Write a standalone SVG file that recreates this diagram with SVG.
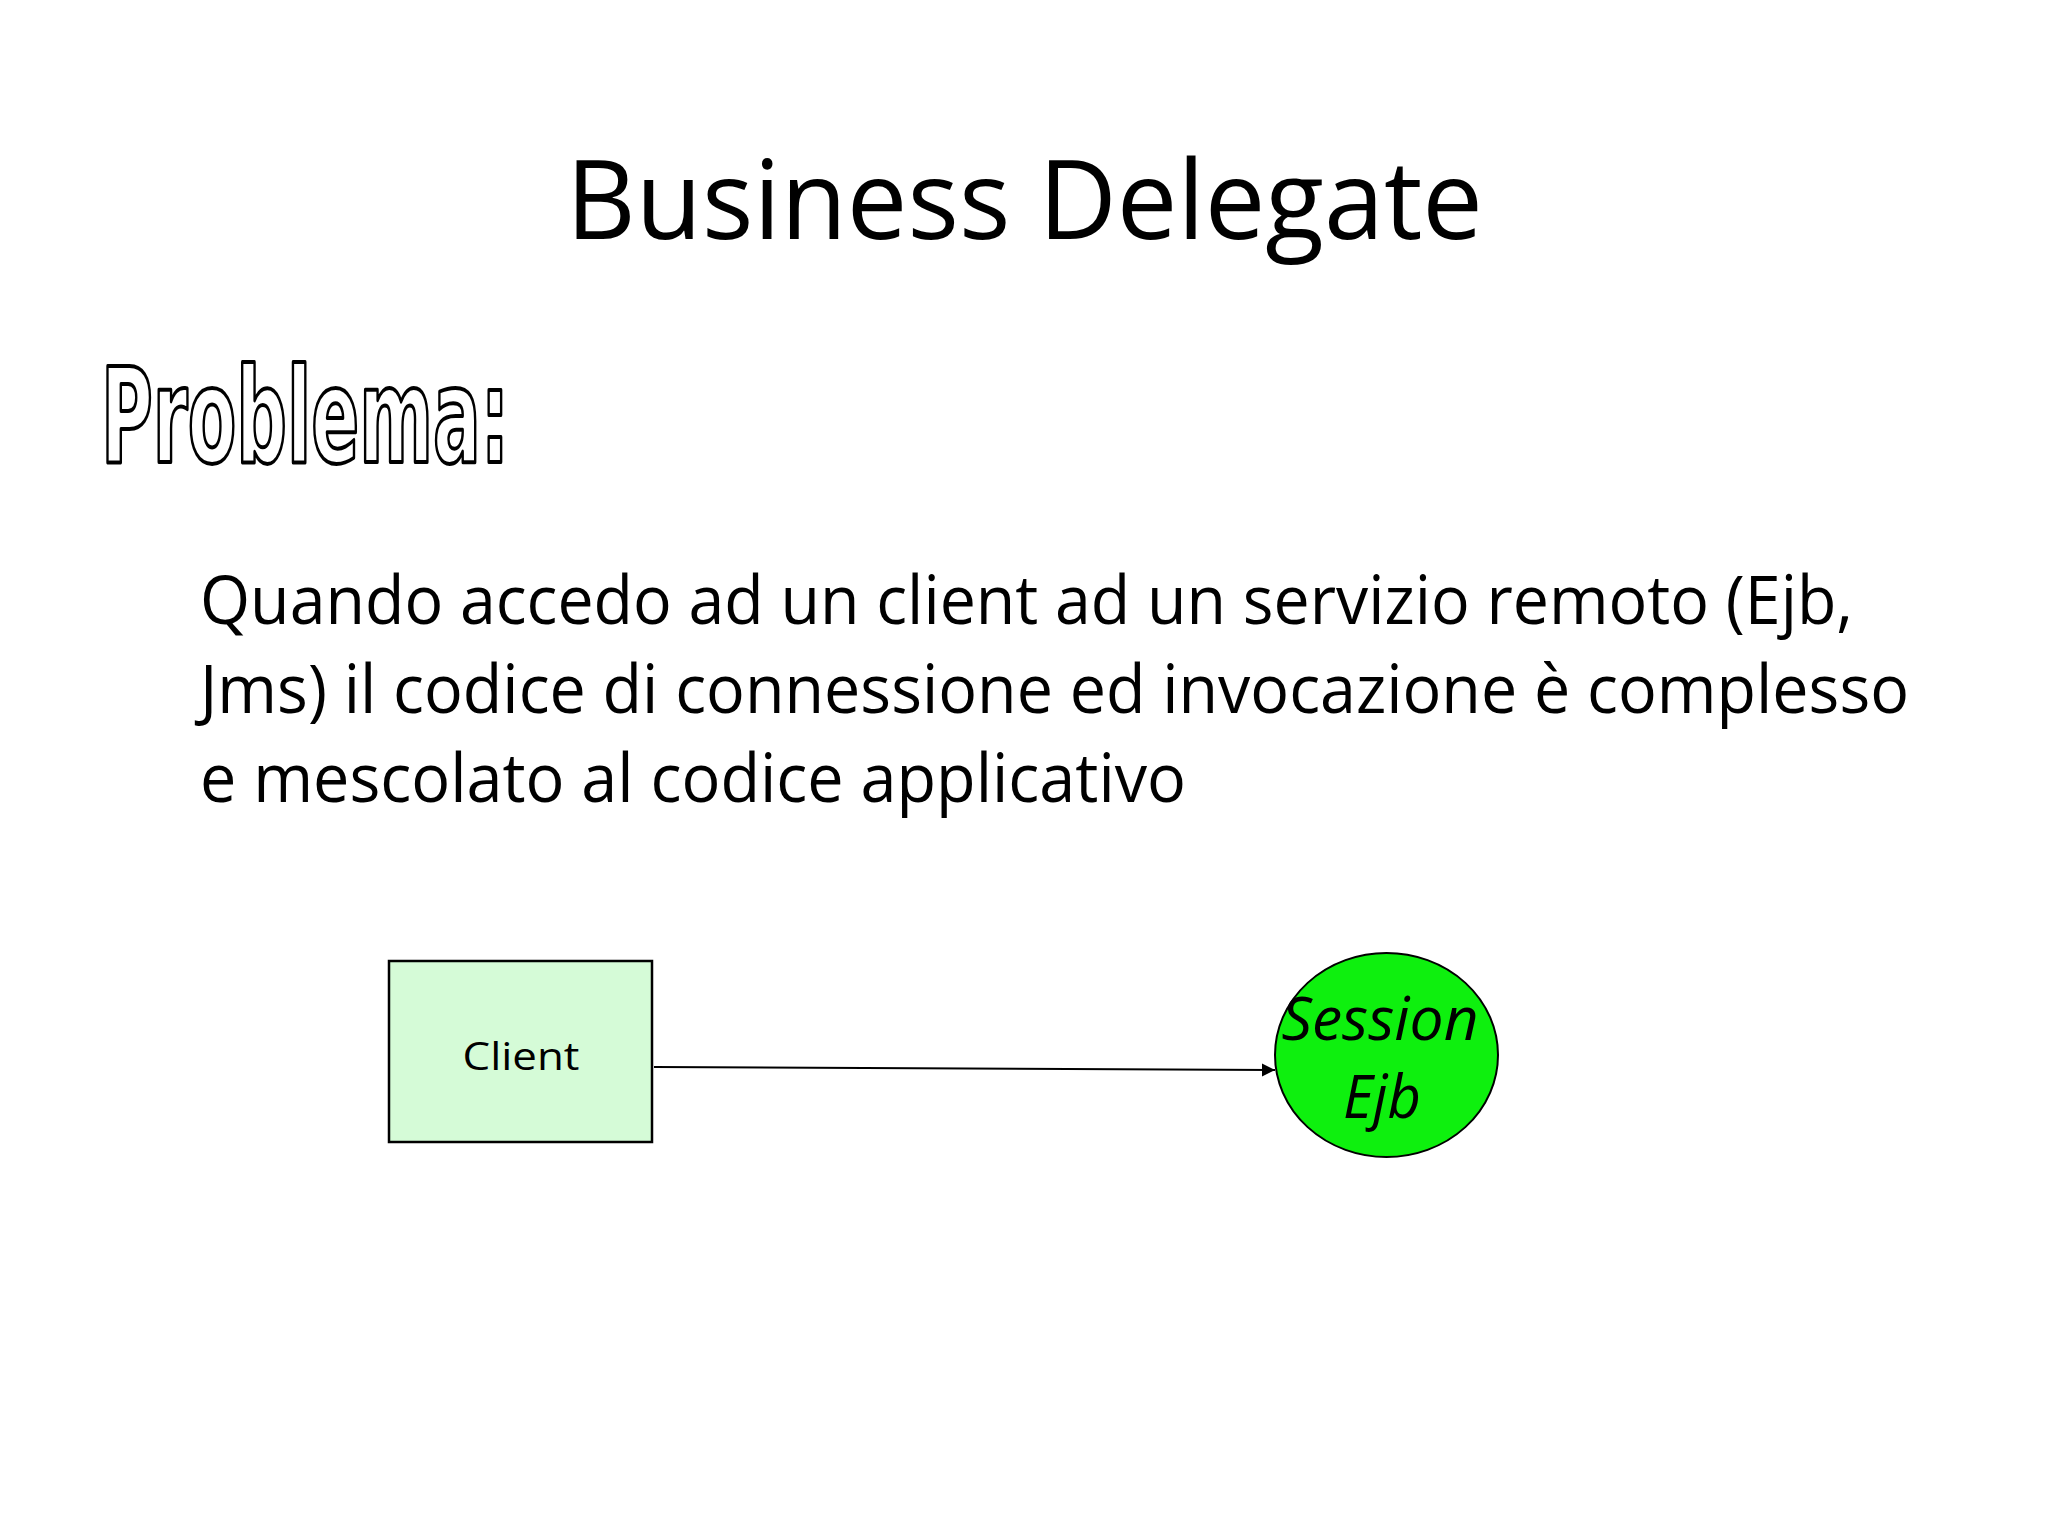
<svg xmlns="http://www.w3.org/2000/svg" width="2048" height="1536" viewBox="0 0 2048 1536">
<style>
.title{font-family:"Open Sans","Liberation Sans",sans-serif;font-size:110px;fill:#000}
.body{font-family:"Open Sans","Liberation Sans",sans-serif;font-size:68px;fill:#000}
.outline{font-family:"Liberation Sans Narrow","DejaVu Sans Condensed","Liberation Sans",sans-serif;font-weight:bold;font-size:132px;fill:#fff;stroke:#000;stroke-width:4;stroke-linejoin:round}
.lbl{font-family:"Open Sans","Liberation Sans",sans-serif;font-size:39px;fill:#000}
.ital{font-family:"Open Sans","Liberation Sans",sans-serif;font-style:italic;font-size:60px;fill:#000}
.edge{stroke:#000;stroke-width:2;fill:none}
</style>
<defs>
<marker id="arr" markerUnits="userSpaceOnUse" markerWidth="14" markerHeight="14" refX="13" refY="6.5" orient="auto">
<path d="M0,0 L13,6.5 L0,13 z" fill="#000"/>
</marker>
</defs>
<rect width="2048" height="1536" fill="#fff"/>
<text class="title" x="566" y="239" textLength="917" lengthAdjust="spacingAndGlyphs">Business Delegate</text>
<text class="outline" x="101" y="462" textLength="408" lengthAdjust="spacingAndGlyphs">Problema:</text>
<text class="body" x="200" y="624" textLength="1653" lengthAdjust="spacingAndGlyphs">Quando accedo ad un client ad un servizio remoto (Ejb,</text>
<text class="body" x="200" y="713" textLength="1709" lengthAdjust="spacingAndGlyphs">Jms) il codice di connessione ed invocazione è complesso</text>
<text class="body" x="200" y="802" textLength="986" lengthAdjust="spacingAndGlyphs">e mescolato al codice applicativo</text>
<g id="client">
<rect x="389" y="961" width="263" height="181" fill="#d5fbd7" stroke="#000" stroke-width="2.5"/>
<text class="lbl" x="521" y="1070" text-anchor="middle" textLength="117" lengthAdjust="spacingAndGlyphs">Client</text>
</g>
<g id="session-ejb">
<ellipse cx="1386.5" cy="1055" rx="111.5" ry="102" fill="#0ef00e" stroke="#000" stroke-width="2"/>
<text class="ital" x="1380" y="1040" text-anchor="middle" textLength="197" lengthAdjust="spacingAndGlyphs">Session</text>
<text class="ital" x="1382" y="1118" text-anchor="middle" textLength="78" lengthAdjust="spacingAndGlyphs">Ejb</text>
</g>
<g id="connectors">
<line class="edge" x1="654" y1="1067" x2="1275" y2="1070" marker-end="url(#arr)"/>
</g>
</svg>
